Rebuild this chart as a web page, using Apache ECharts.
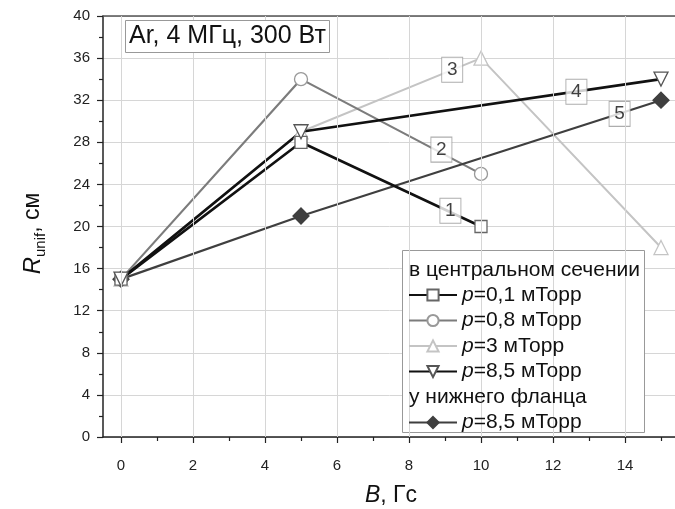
<!DOCTYPE html>
<html>
<head>
<meta charset="utf-8">
<script src="https://cdn.jsdelivr.net/npm/echarts@6/dist/echarts.min.js"></script>
<style>
  html, body { margin: 0; padding: 0; background: #fff; }
  #chart { width: 675px; height: 509px; }
</style>
</head>
<body>
<div id="chart"></div>
<script>
// данные
const b1 = [0, 5, 10], r1 = [15, 28, 20]        // p=0,1 мТорр
const b2 = [0, 5, 10], r2 = [15, 34, 25]        // p=0,8 мТорр
const b3 = [0, 5, 10, 15], r3 = [15, 29, 36, 18] // p=3 мТорр
const b4 = [0, 5, 15], r4 = [15, 29, 34]        // p=8,5 мТорр
const b5 = [0, 5, 15], r5 = [15, 21, 32]        // нижний фланец

const majorTicksX = [0, 2, 4, 6, 8, 10, 12, 14]
const minorTicksX = [1, 3, 5, 7, 9, 11, 13, 15]

const legendNames = ["p=0,1 мТорр", "p=0,8 мТорр", "p=3 мТорр", "p=8,5 мТорр", "p=8,5 мТорр"]

const tagX = [9.15, 8.9, 9.2, 12.65, 13.85]
const tagY = [21.5, 27.3, 34.9, 32.8, 30.7]
const tagText = ["1", "2", "3", "4", "5"]

const font = "Liberation Sans"

const pairs = (xs, ys) => xs.map((x, i) => [x, ys[i]])

const myChart = echarts.init(document.getElementById("chart"))

function lineSeries(id, xs, ys, color, width, symbol, size, fill, border, rotate) {
  return {
    id: id,
    name: id,
    type: "line",
    data: pairs(xs, ys),
    symbol: symbol,
    symbolSize: size,
    symbolRotate: rotate || 0,
    showAllSymbol: true,
    clip: false,
    lineStyle: { color: color, width: width },
    itemStyle: { color: fill, borderColor: border, borderWidth: 1.3 },
    emphasis: { disabled: true },
    z: 3
  }
}

const legendFormatter = (name) => {
  const idx = Number(name.slice(1)) - 1
  const t = legendNames[idx]
  return "{i|p}" + t.slice(1)
}

const legendRich = {
  i: { fontStyle: "italic", fontSize: 21, fontFamily: font, color: "#111" }
}

const legendText = { fontSize: 21, fontFamily: font, color: "#111", rich: legendRich }

const option = {
  animation: false,
  title: {
    text: "Ar, 4 МГц, 300 Вт",
    left: 125,
    top: 20,
    padding: [4, 4, 4, 4],
    borderColor: "#999",
    borderWidth: 1,
    backgroundColor: "#fff",
    textStyle: { fontSize: 25, fontWeight: "normal", color: "#111", fontFamily: font }
  },
  grid: { left: 103, top: 16, right: -4, bottom: 72, outerBoundsMode: "none" },
  legend: [
    {
      data: ["s1", "s2", "s3", "s4"],
      orient: "vertical",
      left: 403,
      top: 279.5,
      itemWidth: 48,
      itemHeight: 14,
      itemGap: 4.5,
      formatter: legendFormatter,
      selectedMode: false,
      textStyle: legendText,
      z: 6
    },
    {
      data: ["s5"],
      orient: "vertical",
      left: 403,
      top: 407,
      itemWidth: 48,
      itemHeight: 14,
      formatter: legendFormatter,
      selectedMode: false,
      textStyle: legendText,
      z: 6
    }
  ],
  graphic: [
    {
      type: "rect",
      shape: { x: 402.5, y: 250.5, width: 242, height: 182 },
      style: { fill: "#fff", stroke: "#999", lineWidth: 1 },
      z: 5
    },
    {
      type: "text",
      left: 409,
      top: 260,
      style: { text: "в центральном сечении", fontSize: 21, fontFamily: font, fill: "#111" },
      z: 6
    },
    {
      type: "text",
      left: 409,
      top: 386.5,
      style: { text: "у нижнего фланца", fontSize: 21, fontFamily: font, fill: "#111" },
      z: 6
    }
  ],
  xAxis: [
    {
      type: "value",
      min: -0.5,
      max: 15.5,
      name: "{i|B}, Гс",
      nameLocation: "middle",
      nameGap: 47,
      nameTextStyle: {
        fontSize: 23,
        fontFamily: font,
        color: "#111",
        rich: { i: { fontStyle: "italic", fontSize: 23, fontFamily: font, color: "#111" } }
      },
      axisLine: { show: true, onZero: false, lineStyle: { color: "#222", width: 1.5 } },
      axisTick: { show: true, customValues: majorTicksX, length: 6, lineStyle: { color: "#222", width: 1.2 } },
      axisLabel: { customValues: majorTicksX, margin: 21, fontSize: 15, fontFamily: font, color: "#222" },
      splitLine: { show: false }
    },
    {
      type: "value",
      min: -0.5,
      max: 15.5,
      position: "bottom",
      axisLine: { show: false },
      axisTick: { show: true, customValues: minorTicksX, length: 4, lineStyle: { color: "#222", width: 1.2 } },
      axisLabel: { show: false, customValues: minorTicksX },
      splitLine: { show: false }
    },
    {
      type: "value",
      min: -0.5,
      max: 15.5,
      position: "top",
      axisLine: { show: true, onZero: false, lineStyle: { color: "#555", width: 1.5 } },
      axisTick: { show: false },
      axisLabel: { show: false },
      splitLine: { show: false }
    }
  ],
  yAxis: {
    type: "value",
    min: 0,
    max: 40,
    interval: 4,
    name: "{i|R}{s|unif}, см",
    nameLocation: "middle",
    nameGap: 55,
    nameRotate: 90,
    nameTextStyle: {
      fontSize: 23,
      fontFamily: font,
      color: "#111",
      lineHeight: 30,
      padding: [0, 14, 0, 0],
      rich: {
        i: { fontStyle: "italic", fontSize: 24, fontFamily: font, color: "#111", lineHeight: 30 },
        s: { fontSize: 15, fontFamily: font, color: "#111", verticalAlign: "bottom", lineHeight: 30 }
      }
    },
    axisLine: { show: true, onZero: false, lineStyle: { color: "#222", width: 1.5 } },
    axisTick: { show: true, length: 6, lineStyle: { color: "#222", width: 1.2 } },
    minorTick: { show: true, splitNumber: 2, length: 4, lineStyle: { color: "#222", width: 1.2 } },
    axisLabel: { margin: 13, fontSize: 15, fontFamily: font, color: "#222" },
    splitLine: { show: true, lineStyle: { color: "#d6d6d6", width: 1 } }
  },
  series: [
    {
      // вертикальная сетка по делениям оси B
      type: "line",
      data: [],
      silent: true,
      z: 1,
      markLine: {
        silent: true,
        symbol: "none",
        label: { show: false },
        lineStyle: { color: "#d6d6d6", width: 1, type: "solid" },
        data: majorTicksX.map((v) => ({ xAxis: v }))
      }
    },
    lineSeries("s3", b3, r3, "#c4c4c4", 2, "triangle", 14, "#fff", "#c4c4c4"),
    lineSeries("s2", b2, r2, "#7c7c7c", 2.2, "circle", 13, "#fff", "#999"),
    lineSeries("s5", b5, r5, "#3f3f3f", 2.2, "diamond", 16, "#3f3f3f", "#3f3f3f"),
    lineSeries("s1", b1, r1, "#111", 2.6, "rect", 12, "#fff", "#666"),
    lineSeries("s4", b4, r4, "#111", 2.6, "triangle", 14, "#fff", "#555", 180),
    {
      // номера кривых в рамках
      type: "scatter",
      data: tagX.map((x, i) => ({ value: [x, tagY[i]], label: { formatter: tagText[i] } })),
      symbol: "rect",
      symbolSize: [21, 25],
      itemStyle: { color: "#fff", borderColor: "#999", borderWidth: 1 },
      label: { show: true, position: "inside", fontSize: 19, fontFamily: font, color: "#111" },
      silent: true,
      z: 4
    }
  ]
}

myChart.setOption(option)
</script>
</body>
</html>
